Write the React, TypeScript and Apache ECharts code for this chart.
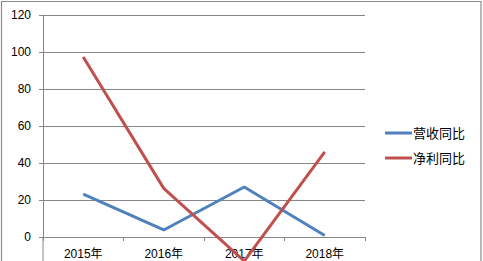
import React, { useEffect, useRef } from "react";
import * as echarts from "echarts";

const categories = ["2015年", "2016年", "2017年", "2018年"];
const revenueYoY = [23.2, 3.8, 27, 0.8];
const profitYoY = [97.3, 26.3, -13, 46];
const seriesNames = ["营收同比", "净利同比"];

export default function App() {
  const ref = useRef<HTMLDivElement>(null);
  useEffect(() => {
    const chart = echarts.init(ref.current!, null, { renderer: "svg" });
    const font = "'Liberation Sans', 'Noto Sans CJK SC', sans-serif";
    chart.setOption({
      animation: false,
      backgroundColor: "#ffffff",
      textStyle: { fontFamily: font },
      graphic: [
        {
          type: "rect",
          shape: { x: 1.5, y: 1.5, width: 479.5, height: 320 },
          style: { fill: "none", stroke: "#8a8a8a", lineWidth: 1.2 },
          silent: true,
        },
        {
          type: "line",
          shape: { x1: 43, y1: 237, x2: 43, y2: 262 },
          style: { stroke: "#868686", lineWidth: 1 },
          silent: true,
        },
      ],
      grid: { left: 43, top: 15, right: 118, bottom: 24 },
      legend: {
        orient: "vertical",
        left: 385,
        top: 125,
        padding: 0,
        itemWidth: 27,
        itemHeight: 3,
        itemGap: 9,
        icon: "rect",
        textStyle: { fontSize: 13, color: "#000", fontFamily: font, padding: [0, 0, 0, -4], lineHeight: 16 },
        data: seriesNames,
      },
      xAxis: {
        type: "category",
        data: categories,
        boundaryGap: true,
        axisLine: { onZero: false, lineStyle: { color: "#868686", width: 1 } },
        axisTick: { show: true, length: 4, lineStyle: { color: "#868686" } },
        axisLabel: { color: "#000", fontSize: 12, margin: 11, fontFamily: font },
        splitLine: { show: false },
      },
      yAxis: {
        type: "value",
        min: 0,
        max: 120,
        interval: 20,
        axisLine: { show: true, lineStyle: { color: "#868686", width: 1 } },
        axisTick: { show: true, length: 4, lineStyle: { color: "#868686" } },
        axisLabel: { color: "#000", fontSize: 12, margin: 12, fontFamily: font },
        splitLine: { show: true, lineStyle: { color: "#868686", width: 1 } },
      },
      series: [
        {
          name: seriesNames[0],
          type: "line",
          data: revenueYoY,
          symbol: "none",
          clip: false,
          z: 5,
          lineStyle: { color: "#4F81BD", width: 3 },
          itemStyle: { color: "#4F81BD" },
        },
        {
          name: seriesNames[1],
          type: "line",
          data: profitYoY,
          symbol: "none",
          clip: false,
          z: 5,
          lineStyle: { color: "#C0504D", width: 3 },
          itemStyle: { color: "#C0504D" },
        },
      ],
    });
    return () => chart.dispose();
  }, []);
  return (
    <div
      ref={ref}
      style={{ position: "absolute", left: 0, top: 0, width: 483, height: 261 }}
    />
  );
}
